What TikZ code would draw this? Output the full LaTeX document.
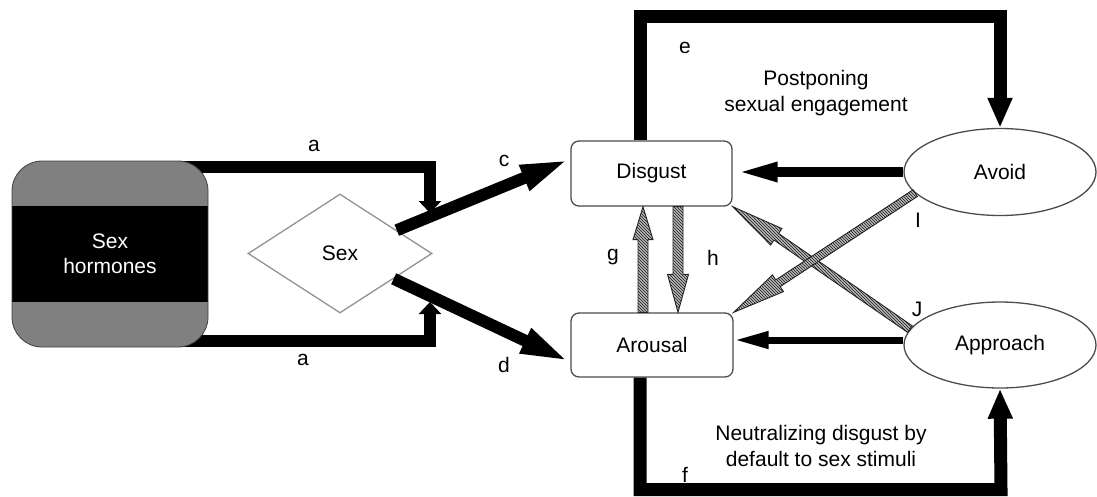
\documentclass[tikz,border=0pt]{standalone}
\usepackage{fontspec}
\setmainfont{Liberation Sans}
\usetikzlibrary{arrows.meta,shapes.geometric,patterns,calc}
\pgfdeclarelayer{bg}
\pgfsetlayers{bg,main}

\tikzset{
  txt/.style={font=\fontsize{21}{25.5}\selectfont},
  lbl/.style={txt, inner sep=0pt},
  boxnode/.style={txt, draw=gray!60!black, line width=1.3pt, fill=white, rounded corners=8pt,
    minimum width=161pt, minimum height=65pt, inner sep=0pt},
  ellnode/.style={txt, ellipse, draw=gray!60!black, line width=1.3pt, fill=white,
    minimum width=192pt, minimum height=87pt, inner sep=0pt},
  dianode/.style={txt, diamond, draw=gray!85, line width=1.3pt, fill=white,
    minimum width=184pt, minimum height=119pt, inner sep=0pt},
  hormnode/.style={txt, draw=black!75, line width=0.8pt, fill=black!50, rounded corners=30pt,
    minimum width=196pt, minimum height=186pt, inner sep=0pt, text=white, align=center,
    path picture={\fill[black, sharp corners] ([yshift=-45pt]path picture bounding box.north west)
      rectangle ([yshift=45pt]path picture bounding box.south east);}},
  aline/.style={line width=12pt, -{Triangle[width=22pt,length=12pt]}},
  cdline/.style={line width=12pt, -{Triangle[width=24pt,length=50pt]}},
  loopline/.style={line width=13pt, -{Triangle[width=23pt,length=30pt]}},
  hatch/.style={draw=gray!30!black, line width=0.9pt, fill=gray!55,
    postaction={pattern=north west lines, pattern color=gray!20!black}},
}

\newcommand{\hatchedarrow}[5]{%
  \path let \p1=(#1), \p2=(#2) in \pgfextra{%
    \pgfmathsetmacro\hA{atan2(\y2-\y1,\x2-\x1)}%
    \pgfmathsetmacro\hL{veclen(\x2-\x1,\y2-\y1)}%
    \xdef\hAng{\hA}\xdef\hLen{\hL}};
  \begin{scope}[shift={(#1)}, rotate=\hAng]
    \draw[hatch] (0pt,#3/2) -- (\hLen pt-#5,#3/2) -- (\hLen pt-#5,#4/2) -- (\hLen pt,0pt)
      -- (\hLen pt-#5,-#4/2) -- (\hLen pt-#5,-#3/2) -- (0pt,-#3/2) -- cycle;
  \end{scope}}

\begin{document}
\begin{tikzpicture}[x=1pt,y=-1pt]
\useasboundingbox (0,0) rectangle (1097,496);

% nodes
\node[hormnode] (hormones) at (110,254) {Sex\\hormones};
\node[dianode] (sex) at (340,253.5) {Sex};
\node[boxnode] (disgust) at (651.5,173.5) {Disgust};
\node[boxnode, minimum width=162pt, minimum height=64pt] (arousal) at (652,345) {Arousal};
\node[ellnode] (avoid) at (1000,172) {Avoid};
\node[ellnode, minimum height=86pt] (approach) at (1000,345) {Approach};

% helper coordinates
\coordinate (atop) at (430,167);
\coordinate (atip) at (430,213);
\coordinate (abot) at (430,340.5);
\coordinate (btip) at (430,302);
\coordinate (cy) at (0,159);
\coordinate (dy) at (0,362);
\coordinate (e1) at (640,16.5);
\coordinate (e2) at (1000,16.5);
\coordinate (f1) at (640,489.5);
\coordinate (f2) at (1001,489.5);
\coordinate (gx) at (643,0);
\coordinate (hx) at (678,0);

% a lines (behind the hormone box)
\begin{pgfonlayer}{bg}
\draw[aline] ([xshift=-30pt]hormones.north east |- atop) -- (atop) -- (atip);
\draw[aline] ([xshift=-30pt]hormones.south east |- abot) -- (abot) -- (btip);
\end{pgfonlayer}

% c, d
\draw[cdline] (sex) -- (disgust.west |- cy);
\draw[cdline] (sex) -- (arousal.west |- dy);

% e, f loops
\draw[loopline] (disgust.north -| e1) -- (e1) -- (e2) -- (avoid.north);
\draw[loopline] (arousal.south -| f1) -- (f1) -- (f2) -- (approach.south);

% avoid / approach arrows
\draw[line width=10pt, -{Triangle[width=17pt,length=45pt]}] (avoid.west) -- (avoid.west -| disgust.east);
\draw[line width=7pt, -{Triangle[width=16pt,length=35pt]}] ([yshift=5pt]approach.west) -- ([yshift=5pt]approach.west -| arousal.east);

% hatched arrows
\hatchedarrow{arousal.north -| gx}{disgust.south -| gx}{10pt}{20pt}{33pt}
\hatchedarrow{disgust.south -| hx}{arousal.north -| hx}{10pt}{21pt}{38pt}
\hatchedarrow{approach.170}{disgust.south east}{8pt}{20pt}{53pt}
\hatchedarrow{avoid.194}{arousal.north east}{8pt}{20pt}{53pt}

% labels
\node[lbl] (la1) at (314,146) {a};
\node[lbl] (la2) at (303,360) {a};
\node[lbl] (lc) at (504,161) {c};
\node[lbl] (ld) at (504,365) {d};
\node[lbl] (le) at (685,48) {e};
\node[lbl] (lf) at (685,475) {f};
\node[lbl] (lg) at (613,257) {g};
\node[lbl] (lh) at (713,258) {h};
\node[lbl] (li) at (918,220) {I};
\node[lbl] (lj) at (917,309) {J};
\node[lbl, align=center] (post) at (816,93) {Postponing\\sexual engagement};
\node[lbl, align=center] (neut) at (821,446) {Neutralizing disgust by\\default to sex stimuli};
\end{tikzpicture}
\end{document}
